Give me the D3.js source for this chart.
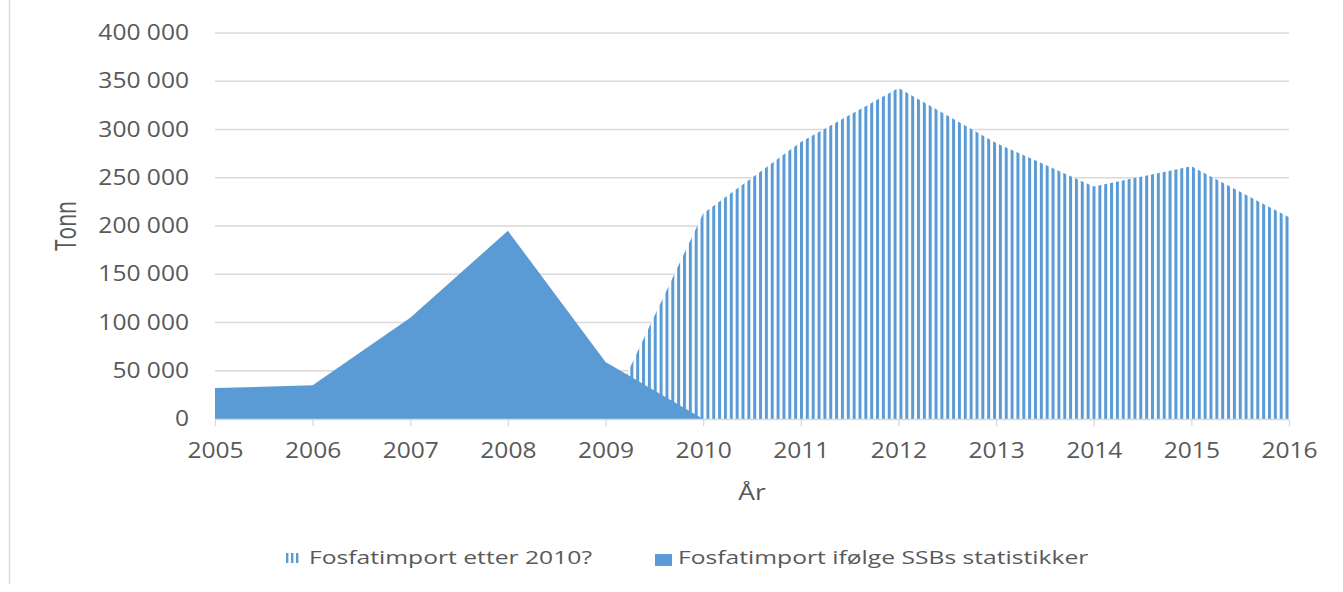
<!DOCTYPE html>
<html>
<head>
<meta charset="utf-8">
<script src="https://cdn.jsdelivr.net/npm/d3@7"></script>
<style>
  body { margin: 0; background: #fff; }
  svg { display: block; font-family: "Open Sans", sans-serif; }
</style>
</head>
<body>
<div id="chart"></div>
<script>
// data
const years = [2005, 2006, 2007, 2008, 2009, 2010, 2011, 2012, 2013, 2014, 2015, 2016];
const ssbYears = [2005, 2006, 2007, 2008, 2009, 2010];
const ssbValues = [32000, 35000, 105000, 195000, 59000, 0];
const afterYears = [2009, 2010, 2011, 2012, 2013, 2014, 2015, 2016];
const afterValues = [0, 213000, 287000, 343000, 286000, 241000, 262000, 209000];
const yTicks = [0, 50000, 100000, 150000, 200000, 250000, 300000, 350000, 400000];
const seriesNames = ["Fosfatimport etter 2010?", "Fosfatimport ifølge SSBs statistikker"];

const W = 1343, H = 592;
const margin = {top: 33, right: 54, bottom: 173, left: 215};
const width = W - margin.left - margin.right;
const height = H - margin.top - margin.bottom;
const blue = "#5B9BD5";
const textCol = "#595959";
const gridCol = "#d9d9d9";

const svg = d3.select("#chart").append("svg")
    .attr("width", W)
    .attr("height", H);

svg.append("rect").attr("width", W).attr("height", H).attr("fill", "#fff");

// chart border on the left side
svg.append("line")
    .attr("x1", 9.5).attr("x2", 9.5)
    .attr("y1", 0).attr("y2", 584)
    .attr("stroke", gridCol).attr("stroke-width", 1.5);

// vertical stripe pattern
const defs = svg.append("defs");
const pat = defs.append("pattern")
    .attr("id", "vstripes")
    .attr("patternUnits", "userSpaceOnUse")
    .attr("width", 5.85).attr("height", 10);
pat.append("rect").attr("width", 5.85).attr("height", 10).attr("fill", "#fff");
pat.append("rect").attr("width", 3).attr("height", 10).attr("fill", blue);

const g = svg.append("g")
    .attr("transform", "translate(" + margin.left + "," + margin.top + ")");

const x = d3.scaleLinear().domain([2005, 2016]).range([0, width]);
const y = d3.scaleLinear().domain([0, 400000]).range([height, 0]);

// gridlines
g.append("g").selectAll("line")
    .data(yTicks.filter(d => d > 0))
    .join("line")
    .attr("x1", 0).attr("x2", width)
    .attr("y1", d => y(d)).attr("y2", d => y(d))
    .attr("stroke", gridCol).attr("stroke-width", 1.3);

const area = d3.area()
    .x(d => x(d[0]))
    .y0(y(0))
    .y1(d => y(d[1]));

// striped series behind, solid series on top
g.append("path")
    .datum(d3.zip(afterYears, afterValues))
    .attr("fill", "url(#vstripes)")
    .attr("d", area);

g.append("path")
    .datum(d3.zip(ssbYears, ssbValues))
    .attr("fill", blue)
    .attr("d", area);

// y axis (labels only)
const fmt = v => d3.format(",")(v).replace(/,/g, " ");
const yAxisG = g.append("g")
    .call(d3.axisLeft(y).tickValues(yTicks).tickSize(0).tickFormat(fmt));
yAxisG.select(".domain").remove();
yAxisG.selectAll("text")
    .attr("x", 0)
    .attr("transform", "translate(-26,0) scale(1.17,1)")
    .attr("fill", textCol)
    .style("font-size", "21px")
    .style("font-family", "Open Sans");

// x axis
const xAxisG = g.append("g")
    .attr("transform", "translate(0," + height + ")")
    .call(d3.axisBottom(x).tickValues(years).tickFormat(d3.format("d"))
        .tickSize(7).tickSizeOuter(0).tickPadding(17));
xAxisG.select(".domain").attr("stroke", gridCol).attr("stroke-width", 1.3);
xAxisG.selectAll(".tick line").attr("stroke", gridCol).attr("stroke-width", 1.3);
xAxisG.selectAll("text")
    .attr("x", 0)
    .attr("transform", "scale(1.17,1)")
    .attr("fill", textCol)
    .style("font-size", "21px")
    .style("font-family", "Open Sans");

// axis titles
svg.append("text")
    .attr("transform", "translate(" + (margin.left + width / 2) + ",500) scale(1.2,1)")
    .attr("text-anchor", "middle")
    .attr("fill", textCol)
    .style("font-size", "22px")
    .text("År");

svg.append("text")
    .attr("transform", "translate(76," + (margin.top + height / 2) + ") scale(1.4,1) rotate(-90)")
    .attr("text-anchor", "middle")
    .attr("fill", textCol)
    .style("font-size", "21px")
    .text("Tonn");

// legend
const legend = svg.append("g");
legend.selectAll(".stripeKey")
    .data(d3.range(3))
    .join("rect")
    .attr("class", "stripeKey")
    .attr("x", i => 286 + i * 5)
    .attr("y", 553).attr("width", 2.4).attr("height", 10)
    .attr("fill", blue);
legend.append("text")
    .attr("transform", "translate(309,564) scale(1.37,1)")
    .attr("fill", textCol)
    .style("font-size", "18px")
    .text(seriesNames[0]);
legend.append("rect")
    .attr("x", 655).attr("y", 554).attr("width", 17).attr("height", 12)
    .attr("fill", blue);
legend.append("text")
    .attr("transform", "translate(678,564) scale(1.37,1)")
    .attr("fill", textCol)
    .style("font-size", "18px")
    .text(seriesNames[1]);
</script>
</body>
</html>
